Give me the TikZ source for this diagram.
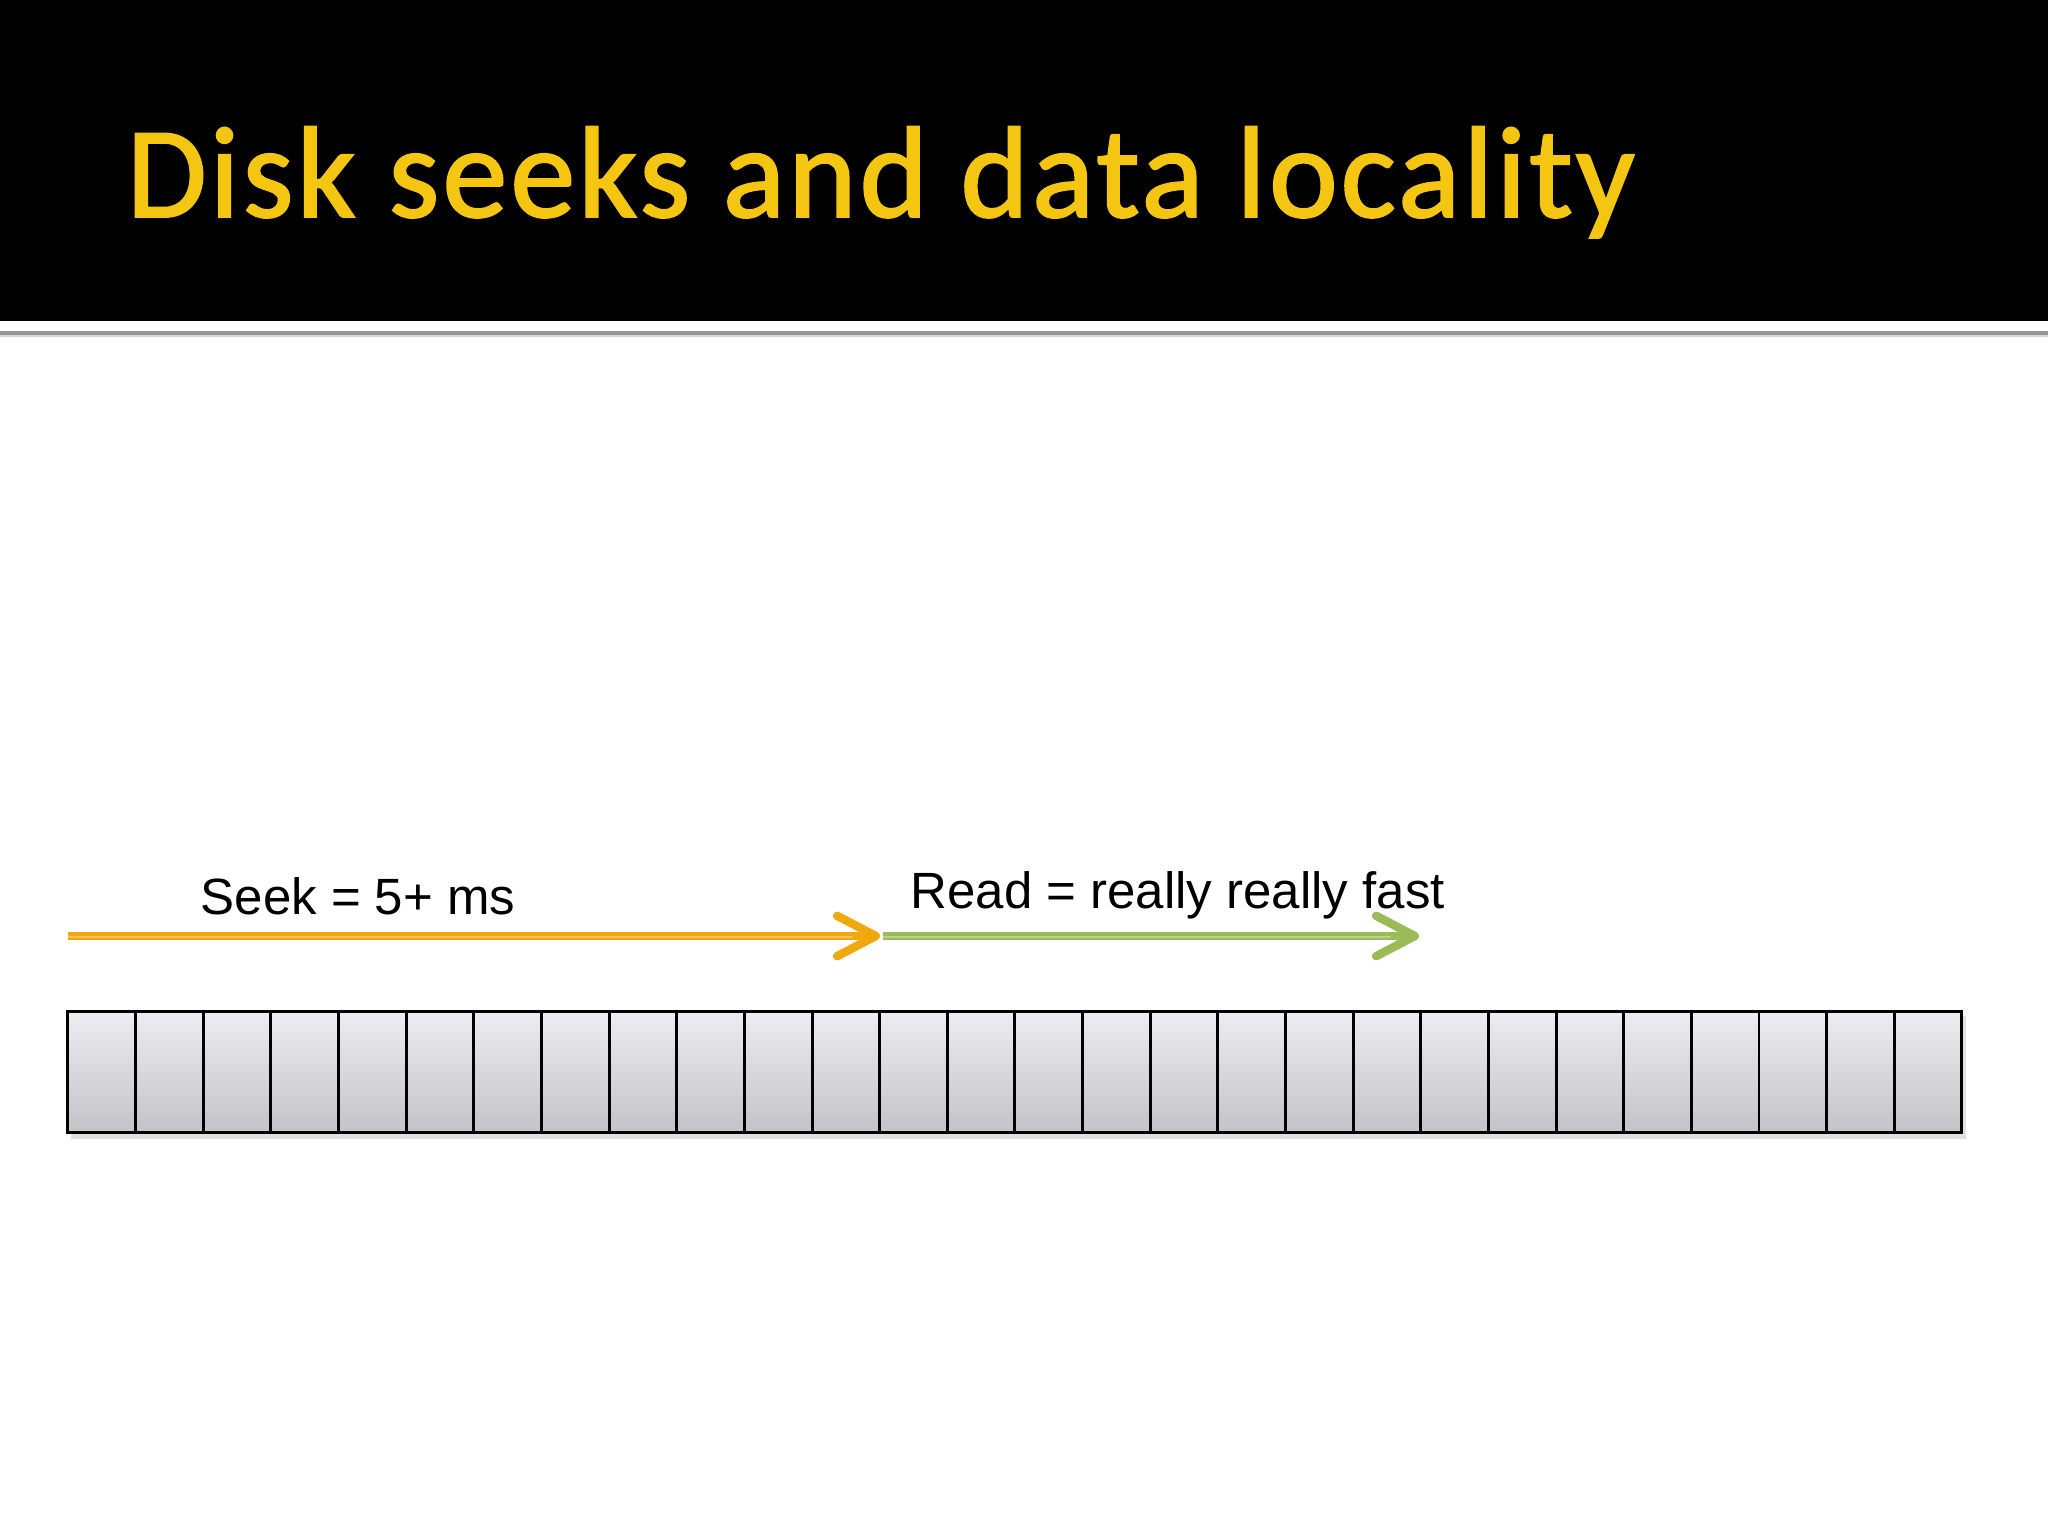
\documentclass[tikz,border=0pt]{standalone}
\usepackage{fontspec}
\setmainfont{Liberation Sans}
\newfontfamily\titlefont[FakeBold=1.5, LetterSpace=2.4]{Carlito}
\usetikzlibrary{arrows.meta}
\definecolor{titleyellow}{HTML}{F4C612}
\definecolor{seekorange}{HTML}{EFA90F}
\definecolor{readgreen}{HTML}{9BBB59}
\definecolor{celltop}{HTML}{EDECF0}
\definecolor{cellbot}{HTML}{C4C3C7}
\definecolor{rulegray}{HTML}{959595}
\tikzset{
  cellbox/.style={draw=black, line width=0.85pt, minimum width=0.6764cm, minimum height=1.2cm, inner sep=0pt, top color=celltop, bottom color=cellbot},
  labeltext/.style={anchor=base west, inner sep=0pt, font=\fontsize{14.5pt}{17pt}\selectfont},
  seekarrow/.style={draw=seekorange, line width=2.2pt, -{Straight Barb[length=11pt, width=11.5pt, line width=2.4pt, round]}},
  readarrow/.style={draw=readgreen, line width=2.2pt, -{Straight Barb[length=11pt, width=11.5pt, line width=2.4pt, round]}},
  stripe/.style={line width=0.5pt, opacity=0.55}
}
\begin{document}
\begin{tikzpicture}[x=0.01cm, y=-0.01cm]
  \useasboundingbox (0,0) rectangle (2048,1536);
  \fill[white] (0,0) rectangle (2048,1536);
  % header
  \fill[black] (0,0) rectangle (2048,321);
  \fill[rulegray] (0,331) rectangle (2048,335);
  \fill[rulegray!40] (0,335) rectangle (2048,337);
  \node[anchor=base west, inner sep=0pt, text=titleyellow, font=\titlefont\fontsize{37pt}{44pt}\selectfont] (title) at (126,217) {Disk seeks and data locality};
  % shadow of the cell strip
  \fill[black, opacity=0.12] (71,1016) rectangle (1966,1139);
  % cells
  \foreach \i in {0,...,27} {
    \node[cellbox] (c\i) at ({68+67.64*(\i+0.5)},1072) {};
  }
  % arrows
  \coordinate (s0) at (68,936);
  \coordinate (s1) at (880,936);
  \coordinate (r0) at (883,936);
  \coordinate (r1) at (1419,936);
  \draw[seekarrow] (s0) -- (s1);
  \draw[readarrow] (r0) -- (r1);
  \draw[stripe, draw=seekorange!40] ([yshift=-0.3pt]s0) -- ([xshift=-8pt, yshift=-0.3pt]s1);
  \draw[stripe, draw=readgreen!40] ([yshift=-0.3pt]r0) -- ([xshift=-8pt, yshift=-0.3pt]r1);
  \node[labeltext] (seeklbl) at (200,914) {Seek = 5+ ms};
  \node[labeltext] (readlbl) at (910,908) {Read = really really fast};
\end{tikzpicture}
\end{document}
